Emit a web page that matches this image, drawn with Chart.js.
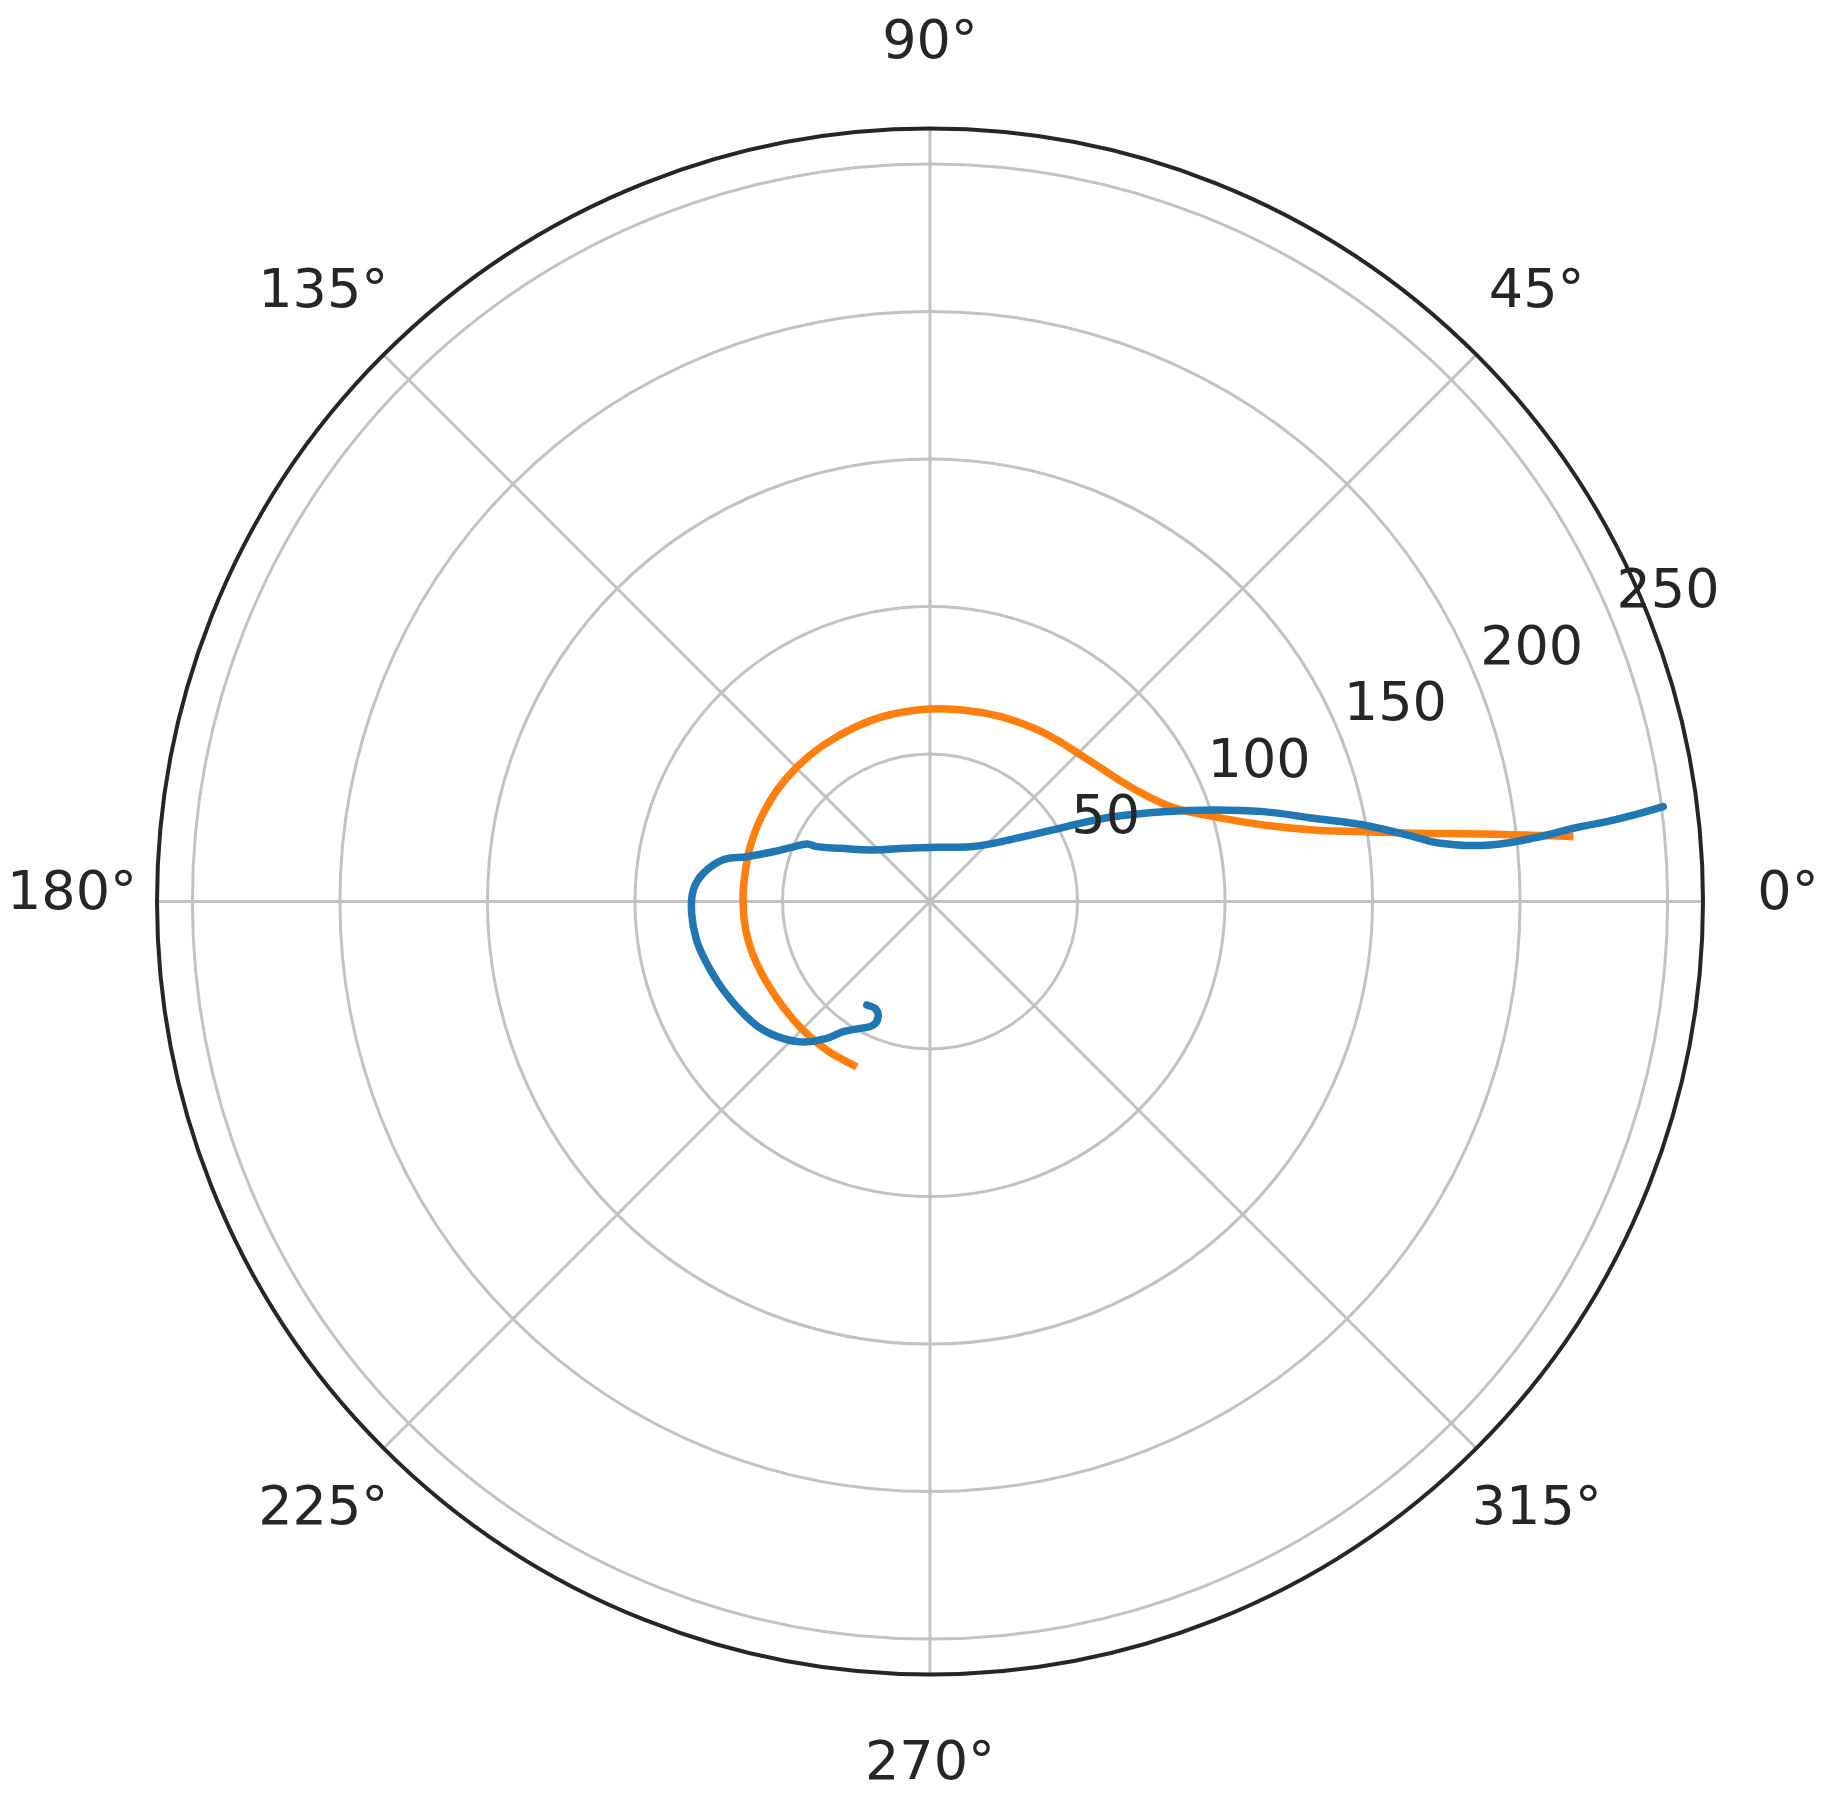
<!DOCTYPE html>
<html>
<head>
<meta charset="utf-8">
<script src="https://cdn.jsdelivr.net/npm/chart.js@4/dist/chart.umd.min.js"></script>
<style>
  html, body { margin: 0; padding: 0; background: #fff; }
  #wrap { width: 1826px; height: 1801px; position: relative; }
</style>
</head>
<body>
<div id="wrap"><canvas id="polarChart"></canvas></div>
<script>
// radial axis
const R_MAX = 262;
const rTicks = [50, 100, 150, 200, 250];
const thetaTicks = [0, 45, 90, 135, 180, 225, 270, 315];
const rLabelAngle = 22.5;

// orange series, theta in degrees, r in axis units (outer end -> inner end)
const orangeTheta = [5.75, 6.96, 8.03, 9.15, 10.57, 12.93, 16.66, 21.3, 27.3, 32.5, 38.4, 45.3, 51.9, 59.2, 69.3, 79.1, 90, 102.1, 112.8, 124.6, 134.7, 144.0, 154.4, 163.1, 170.2, 178.5, 188.8, 199.6, 211.8, 223.9, 235.2, 246.1];
const orangeR     = [219.2, 188.8, 165.5, 148.8, 132.2, 115.9, 100.2, 88.0, 80.4, 76.3, 73.3, 70.9, 69.6, 68.4, 67.0, 65.9, 65.2, 64.7, 64.3, 64.1, 64.1, 64.1, 63.9, 63.7, 63.4, 63.4, 63.2, 62.4, 61.4, 61.2, 61.3, 61.3];

// blue series (outer end -> hook)
const blueTheta = [7.37, 7.08, 6.73, 6.49, 6.06, 5.76, 6.51, 7.64, 10.0, 12.25, 15.08, 17.9, 21.05, 24.8, 27.5, 28.7, 36.1, 51.7, 79.5, 113.7, 137.8, 149.4, 154.2, 154.9, 158.2, 162.4, 166.3, 168.6, 172.9, 177.2, 182.8, 189.4, 195.5, 203.2, 212.1, 219.5, 227.2, 232.9, 236.3, 241.1, 245.3, 245.8, 242.8, 238.6];
const blueR     = [250.6, 242.5, 231.0, 219.5, 207.9, 190.8, 174.0, 165.3, 149.2, 132.9, 117.0, 100.9, 84.7, 68.5, 57.3, 52.8, 36.4, 23.7, 18.7, 19.7, 26.0, 35.4, 42.7, 46.0, 49.9, 55.7, 64.0, 71.5, 77.4, 80.3, 80.9, 80.2, 78.5, 76.2, 73.4, 70.3, 64.8, 58.1, 53.0, 49.1, 46.1, 42.8, 40.7, 41.1];

function toXY(thetas, rs) {
  return thetas.map((t, i) => {
    const a = t * Math.PI / 180;
    return { x: rs[i] * Math.cos(a), y: rs[i] * Math.sin(a) };
  });
}

const FONT = '54px "DejaVu Sans", sans-serif';

// draws the polar frame (rings, spokes, labels) with the chart's own scales
const polarGrid = {
  id: "polarGrid",
  beforeDatasetsDraw(chart) {
    const { ctx, scales } = chart;
    const cx = scales.x.getPixelForValue(0);
    const cy = scales.y.getPixelForValue(0);
    const rp = (r) => scales.x.getPixelForValue(r) - cx;

    ctx.save();
    ctx.strokeStyle = "#c2c2c2";
    ctx.lineWidth = 3;
    rTicks.forEach((r) => {
      ctx.beginPath();
      ctx.arc(cx, cy, rp(r), 0, Math.PI * 2);
      ctx.stroke();
    });
    thetaTicks.forEach((t) => {
      const a = t * Math.PI / 180;
      ctx.beginPath();
      ctx.moveTo(cx, cy);
      ctx.lineTo(scales.x.getPixelForValue(R_MAX * Math.cos(a)), scales.y.getPixelForValue(R_MAX * Math.sin(a)));
      ctx.stroke();
    });
    ctx.restore();
  },
  afterDatasetsDraw(chart) {
    const { ctx, scales } = chart;
    const cx = scales.x.getPixelForValue(0);
    const cy = scales.y.getPixelForValue(0);
    const outer = scales.x.getPixelForValue(R_MAX) - cx;

    ctx.save();
    ctx.strokeStyle = "#262626";
    ctx.lineWidth = 4;
    ctx.beginPath();
    ctx.arc(cx, cy, outer, 0, Math.PI * 2);
    ctx.stroke();

    ctx.fillStyle = "#262626";
    ctx.font = FONT;
    ctx.textAlign = "center";
    ctx.textBaseline = "middle";
    thetaTicks.forEach((t) => {
      const a = t * Math.PI / 180;
      const s = Math.sin(a);
      const d = outer + 85;
      const shift = -7 + 9.5 * Math.abs(s) - 2.5 * s;
      ctx.fillText(t + "°", cx + d * Math.cos(a), cy - d * s + shift);
    });

    ctx.textAlign = "left";
    ctx.textBaseline = "alphabetic";
    const a = rLabelAngle * Math.PI / 180;
    rTicks.forEach((r) => {
      const x = scales.x.getPixelForValue(r * Math.cos(a));
      const y = scales.y.getPixelForValue(r * Math.sin(a));
      ctx.fillText(String(r), x + 5, y - 12);
    });
    ctx.restore();
  }
};

new Chart(document.getElementById("polarChart"), {
  type: "scatter",
  data: {
    datasets: [
      {
        label: "blue",
        data: toXY(blueTheta, blueR),
        showLine: true,
        borderColor: "#1f77b4",
        borderWidth: 7.5,
        pointRadius: 0,
        tension: 0.4,
        borderCapStyle: "round",
        borderJoinStyle: "round",
      },
      {
        label: "orange",
        data: toXY(orangeTheta, orangeR),
        showLine: true,
        borderColor: "#ff7f0e",
        borderWidth: 7.5,
        pointRadius: 0,
        tension: 0.4,
        borderCapStyle: "butt",
        borderJoinStyle: "round",
      },
    ],
  },
  options: {
    responsive: true,
    maintainAspectRatio: false,
    animation: false,
    layout: { padding: { left: 157, right: 123, top: 128, bottom: 126 } },
    scales: {
      x: { type: "linear", min: -R_MAX, max: R_MAX, display: false },
      y: { type: "linear", min: -R_MAX, max: R_MAX, display: false },
    },
    plugins: {
      legend: { display: false },
      tooltip: { enabled: false },
    },
  },
  plugins: [polarGrid],
});
</script>
</body>
</html>
